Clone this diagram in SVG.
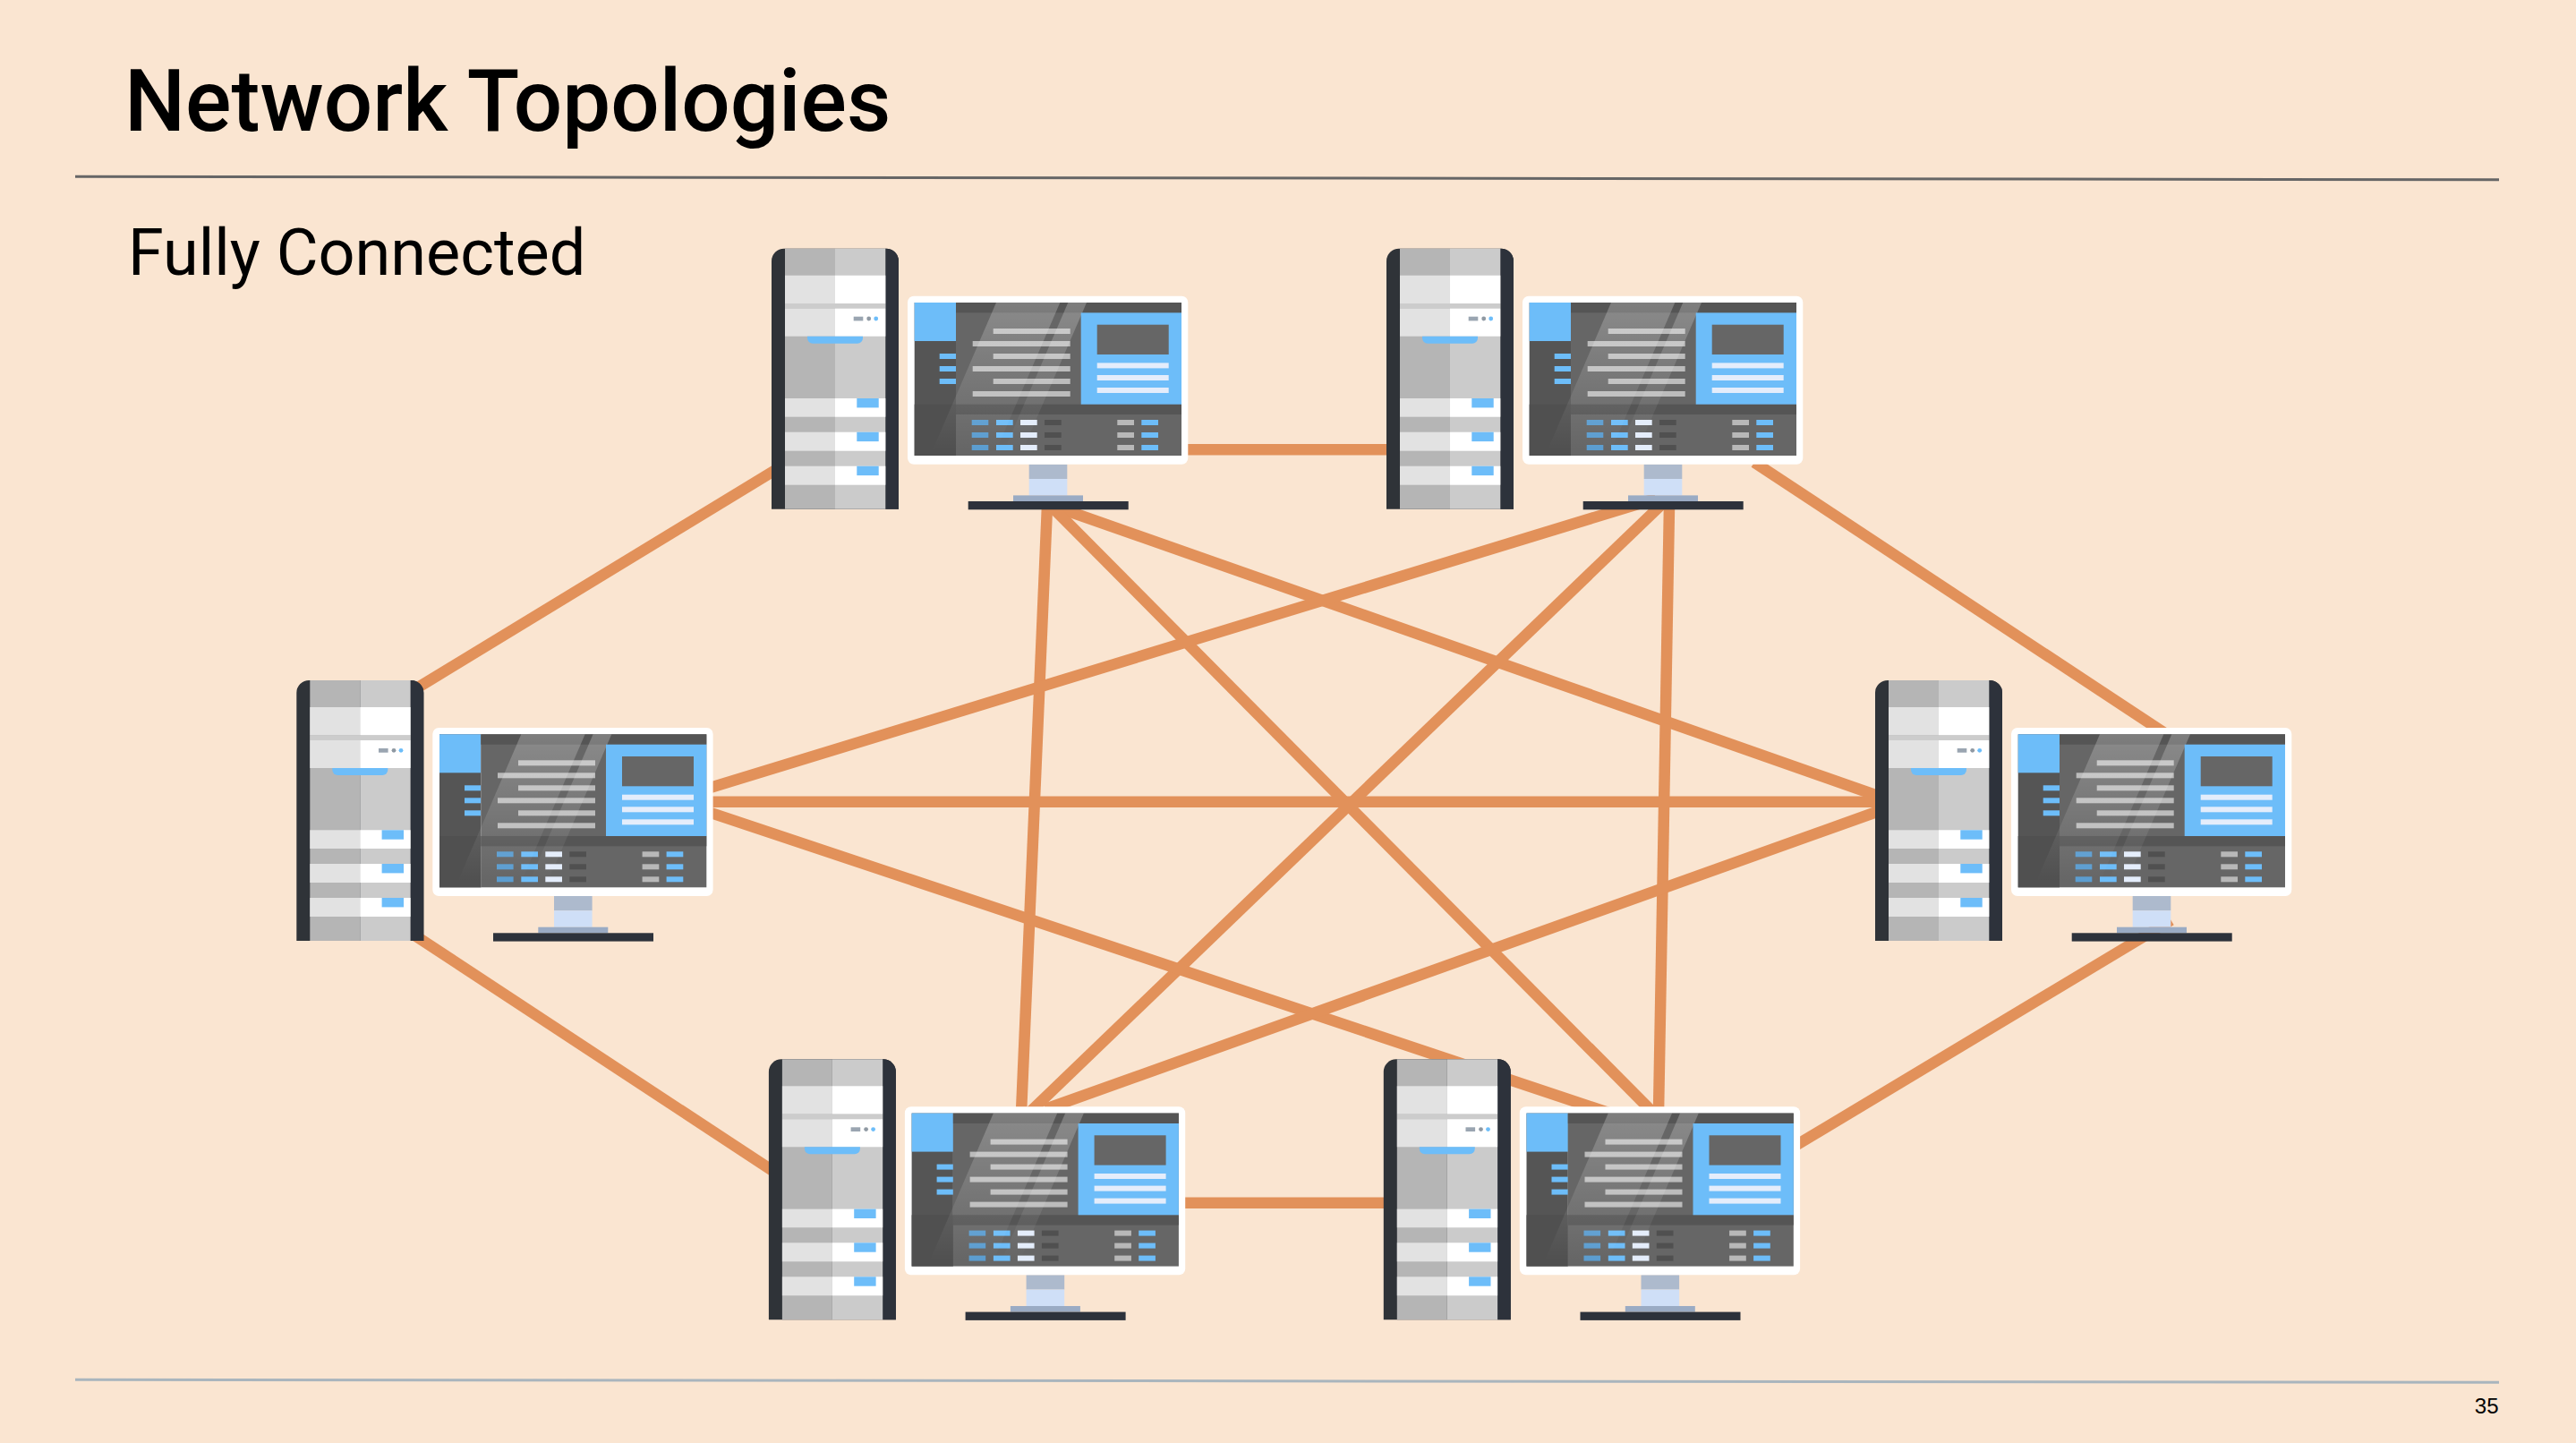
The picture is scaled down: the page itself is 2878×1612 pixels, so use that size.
<svg xmlns="http://www.w3.org/2000/svg" width="2878" height="1612" viewBox="0 0 2878 1612">
<style>
text{fill:#000}
.title{font:500 96px Roboto,"Liberation Sans",sans-serif}
.sub{font:400 72px Roboto,"Liberation Sans",sans-serif}
.page{font:400 24px "Liberation Sans",Arial,sans-serif}
.conn line{stroke:#e2915a;stroke-width:12.500;fill:none}
.gl{fill:#b5b5b5}.gr{fill:#cbcbcb}.wl{fill:#e2e2e2}.wr{fill:#fff}
.blue{fill:#6dbdf9}.dk{fill:#555}.mid{fill:#666}.txt{fill:#bcbcbc}.pale{fill:#e4edfb}
.b1{fill:#5b9dd0}.k{fill:#505050}.g2{fill:#b8b8b8}
</style>
<defs>
<linearGradient id="glare" gradientUnits="userSpaceOnUse" x1="0" y1="60" x2="0" y2="225">
<stop offset="0" stop-color="#fff" stop-opacity=".24"/>
<stop offset="1" stop-color="#fff" stop-opacity="0"/>
</linearGradient>
<g id="station">
<path d="M0 291V14A14 14 0 0 1 14 0H128A14 14 0 0 1 142 14V291Z" fill="#2f3338"/>
<path d="M127.300 0H128A14 14 0 0 1 142 14V291H127.300Z" fill="#2d323b"/>
<rect class="gl" x="15" width="56" height="291"/>
<rect class="gr" x="71" width="56.300" height="291"/>
<rect class="wl" x="15" y="30" width="56" height="31.300"/><rect class="wr" x="71" y="30" width="56.300" height="31.300"/>
<rect x="15" y="61.300" width="112.300" height="5.700" fill="#ccc"/>
<rect class="wl" x="15" y="67" width="56" height="31"/><rect class="wr" x="71" y="67" width="56.300" height="31"/>
<path class="blue" d="M40 98H102V100A6 6 0 0 1 96 106H46A6 6 0 0 1 40 100Z"/>
<rect x="91.700" y="76" width="10.600" height="4.700" fill="#9aa5b1"/>
<circle cx="108.700" cy="78.300" r="2.400" fill="#8f99a3"/>
<circle class="blue" cx="116.700" cy="78.300" r="2.400"/>
<rect class="wl" x="15" y="167.300" width="56" height="20.700"/><rect class="wr" x="71" y="167.300" width="56.300" height="20.700"/>
<rect class="wl" x="15" y="205" width="56" height="21"/><rect class="wr" x="71" y="205" width="56.300" height="21"/>
<rect class="wl" x="15" y="243" width="56" height="21"/><rect class="wr" x="71" y="243" width="56.300" height="21"/>
<rect class="blue" x="95.300" y="167.300" width="24.400" height="10.400"/>
<rect class="blue" x="95.300" y="205" width="24.400" height="10.400"/>
<rect class="blue" x="95.300" y="243" width="24.400" height="10.400"/>
<rect x="287.700" y="241" width="42.600" height="16.300" fill="#adbacd"/>
<rect x="287.700" y="257.300" width="42.600" height="18.400" fill="#cfdff7"/>
<rect x="270" y="275.700" width="78" height="6.600" fill="#9aabc4"/>
<rect x="219.700" y="282.300" width="179" height="9.300" fill="#2d323b"/>
<rect x="152" y="53" width="313.300" height="188" rx="7" fill="#fff"/>
<rect class="dk" x="159.700" y="60.300" width="46.300" height="171"/>
<rect class="k" x="159.700" y="174" width="46.300" height="57.300"/>
<rect class="blue" x="159.700" y="60.300" width="46.300" height="43"/>
<rect class="blue" x="187.700" y="117.300" width="18.300" height="6"/>
<rect class="blue" x="187.700" y="131.300" width="18.300" height="6"/>
<rect class="blue" x="187.700" y="145.300" width="18.300" height="6"/>
<rect class="mid" x="206" y="60.300" width="252" height="171"/>
<rect class="dk" x="206" y="60.300" width="252" height="11.400"/>
<rect class="dk" x="206" y="174" width="252" height="11.300"/>
<rect class="txt" x="247.700" y="89.300" width="86" height="6"/>
<rect class="txt" x="224.700" y="103.300" width="109" height="6"/>
<rect class="txt" x="247.700" y="117.300" width="86" height="6"/>
<rect class="txt" x="224.700" y="131.300" width="109" height="6"/>
<rect class="txt" x="247.700" y="145.300" width="86" height="6"/>
<rect class="txt" x="224.700" y="159.300" width="109" height="6"/>
<g>
<rect class="b1" x="223.700" y="191.300" width="18.600" height="6"/><rect class="blue" x="251" y="191.300" width="18.700" height="6"/><rect class="pale" x="278" y="191.300" width="18.700" height="6"/><rect class="k" x="305" y="191.300" width="18.700" height="6"/><rect class="g2" x="386.300" y="191.300" width="18.700" height="6"/><rect class="blue" x="413.300" y="191.300" width="18.700" height="6"/>
<rect class="b1" x="223.700" y="205.300" width="18.600" height="6"/><rect class="blue" x="251" y="205.300" width="18.700" height="6"/><rect class="pale" x="278" y="205.300" width="18.700" height="6"/><rect class="k" x="305" y="205.300" width="18.700" height="6"/><rect class="g2" x="386.300" y="205.300" width="18.700" height="6"/><rect class="blue" x="413.300" y="205.300" width="18.700" height="6"/>
<rect class="b1" x="223.700" y="219.300" width="18.600" height="6"/><rect class="blue" x="251" y="219.300" width="18.700" height="6"/><rect class="pale" x="278" y="219.300" width="18.700" height="6"/><rect class="k" x="305" y="219.300" width="18.700" height="6"/><rect class="g2" x="386.300" y="219.300" width="18.700" height="6"/><rect class="blue" x="413.300" y="219.300" width="18.700" height="6"/>
</g>
<polygon points="251,60.300 322.300,60.300 251.200,225 180,225" fill="url(#glare)"/>
<polygon points="331.300,60.300 352,60.300 280.800,225 260.100,225" fill="url(#glare)"/>
<rect class="blue" x="345.700" y="71.700" width="112.300" height="102.300"/>
<rect class="mid" x="363.700" y="85" width="80" height="33.300"/>
<rect class="pale" x="363.700" y="127.700" width="80" height="6"/>
<rect class="pale" x="363.700" y="141.300" width="80" height="6"/>
<rect class="pale" x="363.700" y="155.300" width="80" height="6"/>
</g>
</defs>
<rect width="2878" height="1612" fill="#fae5d1"/>
<text class="title" x="139" y="145.500">Network Topologies</text>
<line x1="84" y1="197.300" x2="2792" y2="200.700" stroke="#666" stroke-width="3"/>
<text class="sub" x="143" y="306.700">Fully Connected</text>
<g id="connectors" class="conn">
<line x1="1300" y1="502.300" x2="1560" y2="502.300"/>
<line x1="868" y1="524" x2="462" y2="771"/>
<line x1="1172" y1="563.500" x2="2105" y2="891.500"/>
<line x1="1170" y1="565" x2="1141" y2="1243"/>
<line x1="1174" y1="565" x2="1846" y2="1242"/>
<line x1="1850" y1="557" x2="790" y2="881"/>
<line x1="1960" y1="516.500" x2="2420" y2="820"/>
<line x1="1858" y1="562" x2="1150" y2="1243"/>
<line x1="1865" y1="565" x2="1853" y2="1243"/>
<line x1="790" y1="895.700" x2="2100" y2="895.700"/>
<line x1="462" y1="1044" x2="868" y2="1311"/>
<line x1="790" y1="906.600" x2="1800" y2="1244"/>
<line x1="2105" y1="904" x2="1168" y2="1239"/>
<line x1="2425.500" y1="1028" x2="2000" y2="1283.400"/>
<line x1="1200" y1="1343.700" x2="1560" y2="1343.700"/>
</g>
<g id="n1" transform="translate(862 277.700)"><use href="#station"/></g>
<g id="n2" transform="translate(1549 277.700)"><use href="#station"/></g>
<g id="n3" transform="translate(331.300 760)"><use href="#station"/></g>
<g id="n4" transform="translate(2095 760)"><use href="#station"/></g>
<g id="n5" transform="translate(858.900 1183.300)"><use href="#station"/></g>
<g id="n6" transform="translate(1545.800 1183.300)"><use href="#station"/></g>
<line x1="84" y1="1541.300" x2="2792" y2="1544.300" stroke="#a9b5bd" stroke-width="3"/>
<text class="page" x="2791.500" y="1579.300" text-anchor="end">35</text>
</svg>
